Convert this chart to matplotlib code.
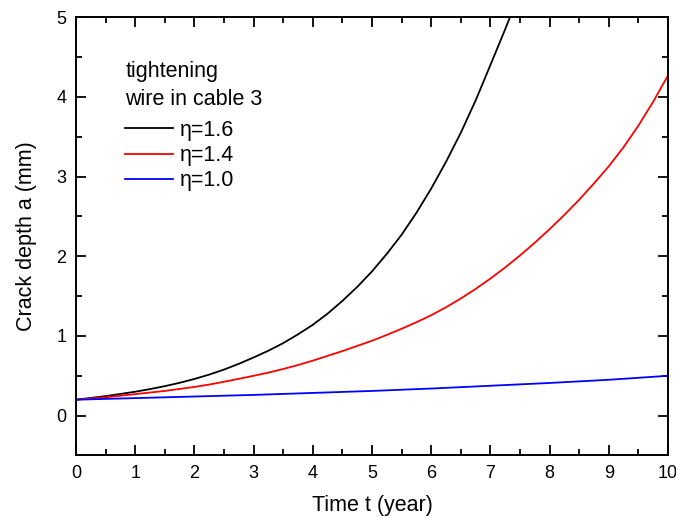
import matplotlib
matplotlib.use("Agg")
import matplotlib.pyplot as plt
from matplotlib.ticker import MultipleLocator

plt.rcParams['font.family'] = ['Liberation Sans', 'DejaVu Sans']

t_black = [0, 0.25, 0.5, 0.75, 1.0, 1.25, 1.5, 1.75, 2.0, 2.25, 2.5, 2.75, 3.0, 3.25, 3.5, 3.75,
           4.0, 4.25, 4.5, 4.75, 5.0, 5.25, 5.5, 5.75, 6.0, 6.25, 6.5, 6.75, 7.0, 7.25, 7.33]
a_black = [0.200, 0.222, 0.245, 0.272, 0.300, 0.333, 0.370, 0.412, 0.460, 0.515, 0.578, 0.650,
           0.730, 0.815, 0.910, 1.020, 1.140, 1.280, 1.440, 1.615, 1.810, 2.030, 2.270, 2.545,
           2.850, 3.185, 3.550, 3.955, 4.400, 4.850, 5.000]

t_red = [0, 0.25, 0.5, 0.75, 1.0, 1.25, 1.5, 1.75, 2.0, 2.25, 2.5, 2.75, 3.0, 3.25, 3.5, 3.75,
         4.0, 4.25, 4.5, 4.75, 5.0, 5.25, 5.5, 5.75, 6.0, 6.25, 6.5, 6.75, 7.0, 7.25, 7.5, 7.75,
         8.0, 8.25, 8.5, 8.75, 9.0, 9.25, 9.5, 9.75, 10.0]
a_red = [0.200, 0.215, 0.230, 0.250, 0.270, 0.290, 0.310, 0.335, 0.360, 0.390, 0.425, 0.462,
         0.500, 0.540, 0.585, 0.635, 0.690, 0.750, 0.810, 0.875, 0.940, 1.013, 1.090, 1.172,
         1.260, 1.360, 1.470, 1.590, 1.720, 1.860, 2.010, 2.170, 2.340, 2.520, 2.710, 2.915,
         3.130, 3.370, 3.640, 3.940, 4.270]

t_blue = [0, 1, 2, 3, 4, 5, 6, 7, 8, 9, 10]
a_blue = [0.20, 0.22, 0.24, 0.26, 0.285, 0.31, 0.34, 0.375, 0.41, 0.45, 0.50]

labels = ["\u03b7=1.6", "\u03b7=1.4", "\u03b7=1.0"]
legend_title = "tightening\nwire in cable 3"

fig = plt.figure(figsize=(6.76, 5.17), dpi=100)
ax = fig.add_axes([0.1124, 0.119, 0.8758, 0.8477])

ax.plot(t_black, a_black, color='black', lw=1.3, label=labels[0])
ax.plot(t_red, a_red, color='red', lw=1.3, label=labels[1])
ax.plot(t_blue, a_blue, color='blue', lw=1.3, label=labels[2])

ax.set_xlim(0, 10)
ax.set_ylim(-0.5, 5)
ax.xaxis.set_major_locator(MultipleLocator(1))
ax.xaxis.set_minor_locator(MultipleLocator(0.5))
ax.yaxis.set_major_locator(MultipleLocator(1))
ax.yaxis.set_minor_locator(MultipleLocator(0.5))
ax.set_yticks([0, 1, 2, 3, 4, 5])

ax.tick_params(which='both', direction='in', top=True, right=True, width=1.3, labelsize=13, pad=7)
ax.tick_params(which='major', length=7)
ax.tick_params(which='minor', length=4)
for s in ax.spines.values():
    s.set_linewidth(1.4)

ax.set_xlabel("Time t (year)", fontsize=15.5, labelpad=9)
ax.set_ylabel("Crack depth a (mm)", fontsize=15.5, labelpad=14)

leg = ax.legend(title=legend_title, loc='upper left', bbox_to_anchor=(0.065, 0.925),
                frameon=False, fontsize=15.5, title_fontsize=15.5, alignment='left',
                handlelength=2.2, handletextpad=0.35, labelspacing=0.2,
                borderpad=0.0)
leg.get_title().set_linespacing(1.45)
leg._legend_box.sep = 7

fig.savefig("out.png", dpi=100)
